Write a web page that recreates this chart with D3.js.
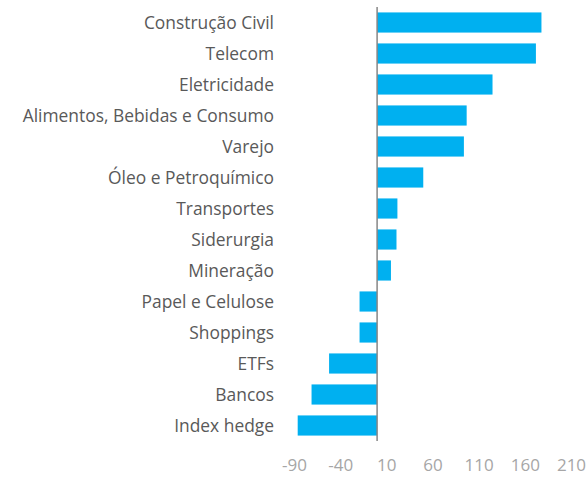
<!DOCTYPE html>
<html>
<head>
<meta charset="utf-8">
<script src="https://cdn.jsdelivr.net/npm/d3@7"></script>
<style>
  body { margin: 0; background: #fff; }
  #chart { width: 587px; height: 477px; }
</style>
</head>
<body>
<div id="chart"></div>
<script>
var categories = [
  "Construção Civil", "Telecom", "Eletricidade", "Alimentos, Bebidas e Consumo",
  "Varejo", "Óleo e Petroquímico", "Transportes", "Siderurgia", "Mineração",
  "Papel e Celulose", "Shoppings", "ETFs", "Bancos", "Index hedge"
];
var values = [178, 172, 125, 97, 94, 50, 22, 21, 15, -19, -19, -52, -71, -86];
var ticks = [-90, -40, 10, 60, 110, 160, 210];

var width = 587, height = 477;
var svg = d3.select("#chart").append("svg")
  .attr("width", width)
  .attr("height", height);

var x = d3.scaleLinear().domain([-90, 210]).range([294, 571]);
var y = d3.scaleBand().domain(categories).range([7, 441]).paddingInner(0.35).paddingOuter(0.175);

var font = "'Open Sans', 'Segoe UI', sans-serif";

// bars
svg.selectAll(".bar")
  .data(values)
  .enter().append("rect")
  .attr("class", "bar")
  .attr("x", function(d) { return x(Math.min(0, d)); })
  .attr("y", function(d, i) { return y(categories[i]); })
  .attr("width", function(d) { return Math.abs(x(d) - x(0)); })
  .attr("height", y.bandwidth())
  .attr("fill", "#00b0f0");

// zero line
svg.append("line")
  .attr("x1", x(0)).attr("x2", x(0))
  .attr("y1", 7).attr("y2", 441)
  .attr("stroke", "#868686")
  .attr("stroke-width", 1.5);

// category labels
svg.selectAll(".cat")
  .data(categories)
  .enter().append("text")
  .attr("class", "cat")
  .attr("x", 274)
  .attr("y", function(d) { return y(d) + y.bandwidth() / 2; })
  .attr("dy", "0.35em")
  .attr("text-anchor", "end")
  .attr("font-family", font)
  .attr("font-size", 17.4)
  .attr("fill", "#595959")
  .text(function(d) { return d; });

// x axis
var xAxis = svg.append("g")
  .attr("transform", "translate(0,459)")
  .call(d3.axisBottom(x).tickValues(ticks).tickSize(0).tickPadding(0)
    .tickFormat(function(d) { return String(d); }));
xAxis.select(".domain").remove();
xAxis.selectAll("text")
  .attr("font-family", font)
  .attr("font-size", 17)
  .attr("fill", "#a6a6a6");
</script>
</body>
</html>
